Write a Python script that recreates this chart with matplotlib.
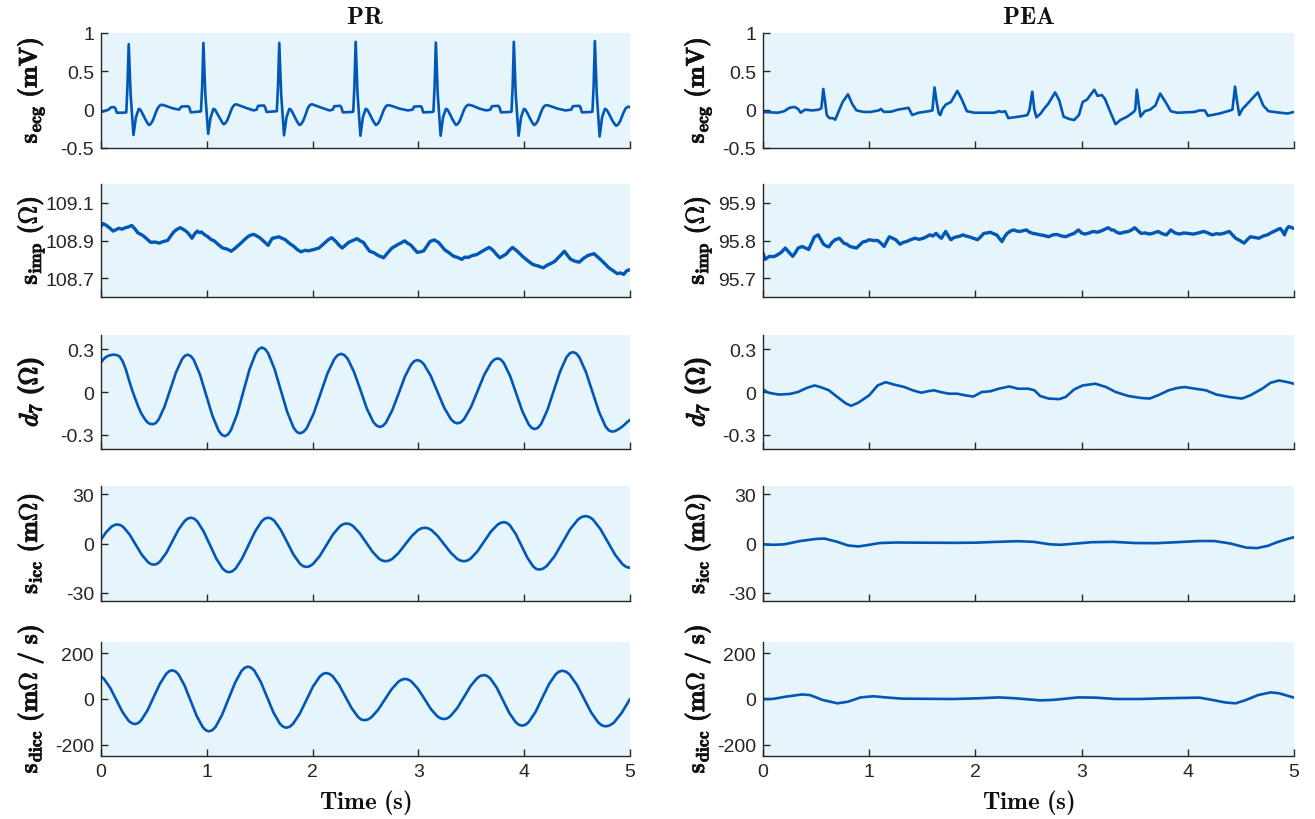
import matplotlib
matplotlib.use("Agg")
import matplotlib.pyplot as plt
from matplotlib import patheffects as pe

plt.rcParams['font.family'] = ['Liberation Sans', 'DejaVu Sans']
plt.rcParams['mathtext.fontset'] = 'custom'
plt.rcParams['mathtext.rm'] = 'cmr10'
plt.rcParams['mathtext.it'] = 'cmmi10'
plt.rcParams['mathtext.bf'] = 'cmb10'
plt.rcParams['mathtext.fallback'] = 'cm'

# ---------------- PR column data ----------------
t_ecg_pr = [0.00, 0.03, 0.07, 0.095, 0.12, 0.135, 0.15, 0.20, 0.239, 0.25, 0.262, 0.28, 0.307, 0.33, 0.357, 0.372, 0.392, 0.417, 0.437, 0.452, 0.467, 0.487, 0.512, 0.532, 0.552, 0.572, 0.612, 0.672, 0.737,
            0.76, 0.82, 0.835, 0.848, 0.93, 0.945,
            0.956, 0.968, 0.986, 1.013, 1.036, 1.063, 1.078, 1.098, 1.123, 1.143, 1.158, 1.173, 1.193, 1.218, 1.238, 1.258, 1.278, 1.318, 1.378, 1.443,
            1.47, 1.485, 1.54, 1.552, 1.565, 1.65, 1.662,
            1.673, 1.685, 1.703, 1.73, 1.753, 1.78, 1.795, 1.815, 1.84, 1.86, 1.875, 1.89, 1.91, 1.935, 1.955, 1.975, 1.995, 2.035, 2.095, 2.16,
            2.19, 2.205, 2.26, 2.272, 2.285, 2.37, 2.384,
            2.395, 2.407, 2.425, 2.452, 2.475, 2.502, 2.517, 2.537, 2.562, 2.582, 2.597, 2.612, 2.632, 2.657, 2.677, 2.697, 2.717, 2.757, 2.817, 2.90,
            2.945, 2.96, 3.02, 3.032, 3.045, 3.13, 3.142,
            3.153, 3.165, 3.183, 3.21, 3.233, 3.26, 3.275, 3.295, 3.32, 3.34, 3.355, 3.37, 3.39, 3.415, 3.435, 3.455, 3.475, 3.515, 3.575, 3.64,
            3.68, 3.695, 3.755, 3.767, 3.78, 3.867, 3.88,
            3.891, 3.902, 3.92, 3.947, 3.97, 3.997, 4.012, 4.032, 4.057, 4.077, 4.092, 4.107, 4.127, 4.152, 4.172, 4.192, 4.212, 4.252, 4.312, 4.39,
            4.445, 4.46, 4.52, 4.532, 4.545, 4.632, 4.645,
            4.656, 4.668, 4.686, 4.713, 4.736, 4.763, 4.778, 4.80, 4.825, 4.85, 4.87, 4.89, 4.91, 4.935, 4.96, 4.985, 5.0]
ecg_pr = [-0.03, -0.02, 0.0, 0.03, 0.035, 0.02, -0.04, -0.04, -0.035, 0.30, 0.855, 0.20, -0.33, -0.10, 0.01, 0.0, -0.05, -0.12, -0.17, -0.20, -0.19, -0.15, -0.06, 0.01, 0.05, 0.065, 0.05, 0.02, 0.0,
          0.04, 0.045, 0.03, -0.035, -0.025, -0.02,
          0.30, 0.87, 0.20, -0.315, -0.10, 0.01, 0.0, -0.05, -0.115, -0.16, -0.19, -0.18, -0.14, -0.05, 0.02, 0.06, 0.07, 0.05, 0.02, -0.01,
          0.0, 0.05, 0.055, 0.03, -0.03, -0.02, -0.02,
          0.30, 0.87, 0.20, -0.335, -0.10, 0.01, 0.0, -0.05, -0.12, -0.17, -0.20, -0.19, -0.15, -0.06, 0.02, 0.06, 0.07, 0.05, 0.02, -0.01,
          0.0, 0.045, 0.05, 0.03, -0.035, -0.03, -0.025,
          0.30, 0.885, 0.20, -0.34, -0.10, 0.01, 0.0, -0.05, -0.12, -0.17, -0.20, -0.19, -0.15, -0.06, 0.01, 0.05, 0.06, 0.045, 0.015, -0.01,
          0.0, 0.04, 0.045, 0.03, -0.035, -0.03, -0.025,
          0.30, 0.875, 0.20, -0.34, -0.10, 0.01, 0.0, -0.05, -0.12, -0.17, -0.20, -0.19, -0.15, -0.06, 0.01, 0.05, 0.065, 0.05, 0.015, -0.01,
          0.0, 0.045, 0.05, 0.03, -0.035, -0.03, -0.025,
          0.30, 0.885, 0.20, -0.34, -0.10, 0.01, 0.0, -0.05, -0.12, -0.17, -0.20, -0.19, -0.15, -0.06, 0.01, 0.05, 0.06, 0.045, 0.015, -0.01,
          0.0, 0.045, 0.05, 0.03, -0.035, -0.03, -0.025,
          0.30, 0.895, 0.20, -0.35, -0.10, 0.01, 0.0, -0.05, -0.12, -0.18, -0.21, -0.19, -0.14, -0.05, 0.02, 0.04, 0.03]

t_imp_pr = [0.0, 0.02, 0.05, 0.085, 0.115, 0.145, 0.17, 0.20, 0.23, 0.26, 0.29, 0.32, 0.35, 0.38, 0.41, 0.44, 0.47, 0.51, 0.55, 0.59, 0.63, 0.66, 0.69, 0.72, 0.75,
            0.78, 0.81, 0.84, 0.86, 0.885, 0.91, 0.93, 0.95, 0.98, 1.01, 1.04, 1.07, 1.11, 1.15, 1.19, 1.23, 1.26, 1.29, 1.33, 1.37, 1.40, 1.44, 1.47, 1.50,
            1.54, 1.58, 1.60, 1.62, 1.65, 1.68, 1.71, 1.74, 1.78, 1.82, 1.855, 1.89, 1.93, 1.96, 2.01, 2.06, 2.09, 2.12, 2.15, 2.18, 2.20, 2.22, 2.25, 2.28,
            2.31, 2.34, 2.38, 2.42, 2.45, 2.48, 2.51, 2.54, 2.58, 2.62, 2.645, 2.67, 2.71, 2.75, 2.78, 2.81, 2.84, 2.87, 2.90, 2.93, 2.96, 2.99, 3.02, 3.05,
            3.08, 3.11, 3.15, 3.19, 3.22, 3.25, 3.29, 3.33, 3.37, 3.41, 3.44, 3.47, 3.51, 3.55, 3.58, 3.61, 3.64, 3.67, 3.69, 3.71, 3.74, 3.77, 3.80, 3.83,
            3.86, 3.89, 3.92, 3.95, 3.98, 4.00, 4.04, 4.08, 4.13, 4.18, 4.22, 4.26, 4.29, 4.32, 4.35, 4.38, 4.41, 4.44, 4.48, 4.52, 4.56, 4.60, 4.63, 4.66,
            4.69, 4.72, 4.76, 4.80, 4.84, 4.88, 4.91, 4.94, 4.97, 5.0]
imp_pr = [108.975, 108.99, 108.98, 108.965, 108.95, 108.958, 108.965, 108.96, 108.968, 108.972, 108.98, 108.962, 108.94, 108.932, 108.92, 108.905, 108.89,
          108.892, 108.886, 108.895, 108.90, 108.925, 108.947, 108.96, 108.968, 108.958, 108.947, 108.928, 108.912, 108.935, 108.95, 108.942, 108.945,
          108.93, 108.92, 108.905, 108.898, 108.878, 108.86, 108.855, 108.843, 108.855, 108.87, 108.89, 108.912, 108.925, 108.933, 108.925, 108.915,
          108.895, 108.874, 108.895, 108.912, 108.915, 108.92, 108.912, 108.905, 108.885, 108.87, 108.852, 108.84, 108.848, 108.845, 108.852, 108.86,
          108.875, 108.89, 108.905, 108.915, 108.905, 108.895, 108.875, 108.86, 108.875, 108.89, 108.90, 108.91, 108.898, 108.89, 108.865, 108.843,
          108.835, 108.82, 108.815, 108.808, 108.835, 108.86, 108.87, 108.88, 108.888, 108.898, 108.885, 108.875, 108.855, 108.837, 108.84, 108.845,
          108.87, 108.895, 108.903, 108.89, 108.87, 108.85, 108.835, 108.817, 108.81, 108.80, 108.812, 108.81, 108.82, 108.825, 108.835, 108.845,
          108.855, 108.863, 108.855, 108.845, 108.825, 108.808, 108.818, 108.828, 108.848, 108.863, 108.85, 108.835, 108.818, 108.808, 108.79,
          108.773, 108.765, 108.755, 108.77, 108.78, 108.79, 108.808, 108.825, 108.843, 108.82, 108.80, 108.79, 108.785, 108.805, 108.82, 108.825,
          108.83, 108.815, 108.80, 108.778, 108.755, 108.74, 108.724, 108.728, 108.72, 108.74, 108.745]

t_d7_pr = [0, 0.03, 0.056, 0.085, 0.115, 0.145, 0.175, 0.205, 0.234, 0.26, 0.29, 0.32, 0.353, 0.38, 0.41, 0.435, 0.46,
           0.49, 0.5175, 0.545, 0.60, 0.655, 0.71, 0.765, 0.7925,
           0.82, 0.849, 0.878, 0.937, 0.995, 1.053, 1.112, 1.141,
           1.17, 1.199, 1.228, 1.287, 1.345, 1.403, 1.462, 1.491,
           1.52, 1.55, 1.58, 1.64, 1.70, 1.76, 1.82, 1.85,
           1.88, 1.9125, 1.945, 2.01, 2.075, 2.14, 2.205, 2.2375,
           2.27, 2.30, 2.331, 2.392, 2.453, 2.513, 2.574, 2.605,
           2.635, 2.665, 2.694, 2.753, 2.813, 2.872, 2.931, 2.96,
           2.99, 3.022, 3.053, 3.117, 3.18, 3.243, 3.307, 3.338,
           3.37, 3.402, 3.433, 3.497, 3.56, 3.623, 3.687, 3.718,
           3.75, 3.779, 3.808, 3.867, 3.925, 3.983, 4.042, 4.071,
           4.10, 4.13, 4.16, 4.22, 4.28, 4.34, 4.40, 4.43,
           4.46, 4.491, 4.522, 4.583, 4.645, 4.707, 4.768, 4.799,
           4.83, 4.86, 4.89, 4.92, 4.95, 4.975, 5.0]
d7_pr = [0.208, 0.235, 0.25, 0.258, 0.262, 0.26, 0.25, 0.215, 0.16, 0.095, 0.023, -0.04, -0.104, -0.15, -0.185, -0.21, -0.223,
         -0.226, -0.218, -0.193, -0.104, 0.018, 0.14, 0.229, 0.254,
         0.262, 0.252, 0.224, 0.119, -0.024, -0.167, -0.272, -0.30,
         -0.31, -0.299, -0.268, -0.155, 0.001, 0.157, 0.27, 0.301,
         0.312, 0.302, 0.272, 0.162, 0.011, -0.14, -0.25, -0.28,
         -0.29, -0.281, -0.253, -0.151, -0.011, 0.129, 0.231, 0.259,
         0.268, 0.259, 0.234, 0.14, 0.012, -0.117, -0.211, -0.236,
         -0.245, -0.237, -0.214, -0.128, -0.011, 0.107, 0.193, 0.216,
         0.224, 0.216, 0.194, 0.113, 0.002, -0.109, -0.19, -0.212,
         -0.22, -0.212, -0.189, -0.106, 0.008, 0.122, 0.205, 0.228,
         0.236, 0.228, 0.203, 0.112, -0.012, -0.136, -0.227, -0.252,
         -0.26, -0.251, -0.224, -0.125, 0.01, 0.145, 0.244, 0.271,
         0.28, 0.271, 0.243, 0.141, 0.001, -0.139, -0.241, -0.269,
         -0.278, -0.274, -0.262, -0.247, -0.228, -0.21, -0.196]

t_icc_pr = [0, 0.05, 0.10, 0.13,
            0.155, 0.184, 0.2125, 0.27, 0.3275, 0.385, 0.4425, 0.471,
            0.50, 0.529, 0.558, 0.617, 0.675, 0.733, 0.792, 0.821,
            0.85, 0.88, 0.91, 0.97, 1.03, 1.09, 1.15, 1.18,
            1.21, 1.241, 1.272, 1.333, 1.395, 1.457, 1.518, 1.549,
            1.58, 1.61, 1.64, 1.70, 1.76, 1.82, 1.88, 1.91,
            1.94, 1.972, 2.003, 2.067, 2.13, 2.193, 2.257, 2.288,
            2.32, 2.351, 2.382, 2.443, 2.505, 2.567, 2.628, 2.659,
            2.69, 2.721, 2.752, 2.813, 2.875, 2.937, 2.998, 3.029,
            3.06, 3.091, 3.122, 3.183, 3.245, 3.307, 3.368, 3.399,
            3.43, 3.462, 3.493, 3.557, 3.62, 3.683, 3.747, 3.778,
            3.81, 3.8375, 3.865, 3.92, 3.975, 4.03, 4.085, 4.1125,
            4.14, 4.177, 4.213, 4.287, 4.36, 4.433, 4.507, 4.543,
            4.58, 4.615, 4.65, 4.72, 4.79, 4.86, 4.93, 4.965, 5.0]
icc_pr = [2.4, 7.0, 10.3, 11.3,
          11.6, 11.18, 9.96, 5.48, -0.65, -6.78, -11.26, -12.48,
          -12.9, -12.41, -10.98, -5.75, 1.4, 8.55, 13.78, 15.21,
          15.7, 15.14, 13.48, 7.4, -0.9, -9.2, -15.28, -16.94,
          -17.5, -16.94, -15.28, -9.2, -0.9, 7.4, 13.48, 15.14,
          15.7, 15.19, 13.69, 8.2, 0.7, -6.8, -12.29, -13.79,
          -14.3, -13.85, -12.52, -7.68, -1.05, 5.58, 10.42, 11.75,
          12.2, 11.81, 10.66, 6.45, 0.7, -5.05, -9.26, -10.41,
          -10.8, -10.45, -9.43, -5.7, -0.6, 4.5, 8.23, 9.25,
          9.6, 9.25, 8.23, 4.5, -0.6, -5.7, -9.43, -10.45,
          -10.8, -10.4, -9.21, -4.85, 1.1, 7.05, 11.41, 12.6,
          13.0, 12.51, 11.06, 5.78, -1.45, -8.68, -13.96, -15.41,
          -15.9, -15.35, -13.72, -7.75, 0.4, 8.55, 14.52, 16.15,
          16.7, 16.16, 14.59, 8.83, 0.95, -6.93, -12.69, -14.26, -14.8]

t_dicc_pr = [0, 0.028, 0.087, 0.145, 0.203, 0.262, 0.291,
             0.32, 0.35, 0.379, 0.438, 0.4975, 0.557, 0.616, 0.645,
             0.675, 0.704, 0.7325, 0.79, 0.8475, 0.905, 0.9625, 0.991,
             1.02, 1.051, 1.082, 1.143, 1.205, 1.267, 1.328, 1.359,
             1.39, 1.42, 1.45, 1.51, 1.57, 1.63, 1.69, 1.72,
             1.75, 1.782, 1.813, 1.877, 1.94, 2.003, 2.067, 2.098,
             2.13, 2.16, 2.19, 2.25, 2.31, 2.37, 2.43, 2.46,
             2.49, 2.522, 2.554, 2.618, 2.683, 2.747, 2.811, 2.843,
             2.875, 2.905, 2.936, 2.997, 3.058, 3.118, 3.179, 3.21,
             3.24, 3.272, 3.303, 3.367, 3.43, 3.493, 3.557, 3.588,
             3.62, 3.65, 3.68, 3.74, 3.80, 3.86, 3.92, 3.95,
             3.98, 4.012, 4.043, 4.107, 4.17, 4.233, 4.297, 4.328,
             4.36, 4.394, 4.428, 4.497, 4.565, 4.633, 4.702, 4.736,
             4.77, 4.808, 4.847, 4.923, 5.0]
dicc_pr = [100, 88, 49, -4, -57, -96, -106,
           -110, -106, -94, -51, 8, 67, 110, 122,
           126, 121, 108, 59, -8, -75, -124, -137,
           -142, -137, -123, -71, 0, 71, 123, 137,
           142, 137, 124, 75, 8, -59, -108, -121,
           -126, -122, -110, -66, -6, 54, 98, 110,
           114, 110, 100, 62, 10, -41, -79, -90,
           -93, -90, -81, -48, -2, 43, 76, 85,
           88, 85, 76, 44, 0, -44, -76, -85,
           -88, -85, -75, -40, 8, 57, 92, 102,
           105, 101, 90, 50, -6, -62, -102, -113,
           -117, -113, -101, -57, 4, 64, 108, 120,
           124, 120, 108, 63, 2, -59, -104, -116,
           -120, -116, -104, -60, 0]

# ---------------- PEA column data ----------------
t_ecg_pea = [0.00, 0.14, 0.20, 0.25, 0.30, 0.33, 0.355, 0.395, 0.465, 0.525, 0.55, 0.568, 0.585, 0.60, 0.625, 0.655, 0.68, 0.71, 0.75, 0.80, 0.84,
             0.88, 0.95, 1.01, 1.09, 1.11, 1.14, 1.21, 1.27, 1.355, 1.37, 1.405, 1.465, 1.56, 1.595, 1.615, 1.635, 1.655, 1.67, 1.69, 1.72, 1.77,
             1.83, 1.87, 1.92, 1.99, 2.18, 2.22, 2.25, 2.28, 2.31, 2.44, 2.49, 2.51, 2.535, 2.555, 2.575, 2.615, 2.645, 2.685, 2.75, 2.79, 2.83,
             2.88, 2.93, 2.975, 3.01, 3.05, 3.12, 3.15, 3.19, 3.22, 3.27, 3.32, 3.365, 3.43, 3.49, 3.505, 3.52, 3.54, 3.555, 3.595, 3.645, 3.695,
             3.74, 3.79, 3.84, 3.90, 4.06, 4.11, 4.16, 4.19, 4.30, 4.40, 4.42, 4.445, 4.465, 4.485, 4.515, 4.56, 4.66, 4.71, 4.76, 4.87, 4.94, 5.0]
ecg_pea = [-0.03, -0.04, -0.02, 0.025, 0.035, 0.01, -0.04, 0.0, -0.01, 0.0, 0.02, 0.27, 0.10, -0.07, -0.11, -0.11, -0.13, -0.03, 0.10, 0.20, 0.075,
           -0.01, -0.03, -0.03, -0.01, 0.01, -0.03, -0.025, 0.0, 0.02, 0.025, -0.07, -0.04, -0.02, -0.01, 0.29, 0.10, -0.05, -0.07, 0.01, 0.065, 0.10,
           0.245, 0.14, -0.02, -0.04, -0.04, -0.02, -0.03, -0.02, -0.11, -0.085, -0.07, 0.0, 0.235, 0.0, -0.10, -0.05, 0.01, 0.075, 0.225, 0.12, -0.09,
           -0.12, -0.135, -0.07, 0.10, 0.13, 0.26, 0.18, 0.19, 0.14, -0.03, -0.19, -0.135, -0.09, -0.03, 0.0, 0.26, 0.05, -0.09, -0.02, 0.0, 0.055,
           0.21, 0.10, -0.02, -0.04, -0.03, -0.01, -0.01, -0.08, -0.05, -0.01, 0.0, 0.30, 0.10, -0.07, 0.01, 0.075, 0.225, 0.055, -0.02, -0.04, -0.05, -0.03]

t_imp_pea = [0.0, 0.02, 0.06, 0.10, 0.13, 0.17, 0.21, 0.25, 0.28, 0.31, 0.33, 0.37, 0.40, 0.43, 0.46, 0.485, 0.52, 0.55, 0.57, 0.60, 0.62, 0.65, 0.68,
             0.72, 0.76, 0.79, 0.82, 0.85, 0.88, 0.91, 0.94, 0.97, 1.00, 1.04, 1.08, 1.11, 1.14, 1.17, 1.19, 1.22, 1.25, 1.29, 1.32, 1.35, 1.39, 1.43,
             1.47, 1.51, 1.54, 1.57, 1.60, 1.63, 1.66, 1.68, 1.70, 1.72, 1.745, 1.77, 1.80, 1.83, 1.86, 1.88, 1.91, 1.94, 1.98, 2.02, 2.05, 2.08, 2.11,
             2.14, 2.17, 2.20, 2.225, 2.25, 2.28, 2.30, 2.33, 2.36, 2.39, 2.42, 2.45, 2.48, 2.51, 2.54, 2.58, 2.61, 2.65, 2.69, 2.73, 2.77, 2.81, 2.85,
             2.89, 2.93, 2.97, 3.00, 3.03, 3.07, 3.11, 3.15, 3.19, 3.22, 3.25, 3.28, 3.30, 3.33, 3.36, 3.40, 3.44, 3.47, 3.50, 3.53, 3.56, 3.60, 3.64,
             3.68, 3.72, 3.76, 3.80, 3.84, 3.88, 3.92, 3.96, 4.00, 4.05, 4.10, 4.15, 4.19, 4.23, 4.27, 4.31, 4.35, 4.39, 4.42, 4.45, 4.49, 4.53, 4.56,
             4.59, 4.63, 4.67, 4.71, 4.75, 4.78, 4.81, 4.84, 4.87, 4.89, 4.91, 4.93, 4.95, 4.98, 5.0]
imp_pea = [95.767, 95.75, 95.758, 95.757, 95.761, 95.768, 95.78, 95.767, 95.758, 95.77, 95.78, 95.784, 95.78, 95.776, 95.795, 95.81, 95.815, 95.80,
           95.79, 95.785, 95.783, 95.795, 95.802, 95.806, 95.793, 95.79, 95.784, 95.782, 95.78, 95.788, 95.796, 95.798, 95.802, 95.80, 95.80, 95.793,
           95.784, 95.80, 95.81, 95.806, 95.802, 95.79, 95.795, 95.797, 95.802, 95.806, 95.803, 95.806, 95.81, 95.815, 95.812, 95.819, 95.81, 95.806,
           95.815, 95.824, 95.812, 95.802, 95.808, 95.81, 95.812, 95.815, 95.812, 95.81, 95.806, 95.802, 95.81, 95.819, 95.82, 95.822, 95.818, 95.815,
           95.806, 95.797, 95.812, 95.819, 95.825, 95.828, 95.825, 95.824, 95.826, 95.828, 95.822, 95.819, 95.817, 95.815, 95.813, 95.81, 95.815,
           95.816, 95.812, 95.81, 95.815, 95.819, 95.828, 95.82, 95.817, 95.82, 95.824, 95.822, 95.826, 95.83, 95.834, 95.828, 95.828, 95.822, 95.819,
           95.822, 95.824, 95.828, 95.834, 95.826, 95.819, 95.82, 95.817, 95.82, 95.824, 95.818, 95.815, 95.828, 95.82, 95.817, 95.82, 95.819, 95.817,
           95.82, 95.824, 95.82, 95.815, 95.818, 95.817, 95.82, 95.824, 95.815, 95.806, 95.80, 95.793, 95.802, 95.81, 95.808, 95.806, 95.812, 95.815,
           95.82, 95.824, 95.828, 95.832, 95.825, 95.815, 95.83, 95.837, 95.834, 95.832]

t_d7_pea = [0.0, 0.05, 0.15, 0.25, 0.33, 0.41, 0.485, 0.54, 0.62, 0.70, 0.78, 0.83, 0.90, 1.0, 1.08, 1.155, 1.23, 1.33, 1.41, 1.49, 1.55, 1.61, 1.67,
            1.75, 1.83, 1.90, 1.98, 2.06, 2.14, 2.22, 2.32, 2.40, 2.50, 2.555, 2.61, 2.69, 2.79, 2.85, 2.93, 3.01, 3.13, 3.23, 3.32, 3.44, 3.56, 3.64,
            3.72, 3.82, 3.90, 3.97, 4.07, 4.17, 4.27, 4.39, 4.51, 4.59, 4.70, 4.78, 4.86, 4.94, 5.0]
d7_pea = [0.018, -0.005, -0.018, -0.014, 0.0, 0.028, 0.046, 0.035, 0.012, -0.035, -0.08, -0.097, -0.074, -0.023, 0.046, 0.069, 0.053, 0.035, 0.012,
          -0.005, 0.005, 0.012, 0.0, -0.012, -0.012, -0.023, -0.032, 0.0, 0.005, 0.023, 0.039, 0.023, 0.023, 0.012, -0.028, -0.046, -0.05, -0.035,
          0.018, 0.046, 0.058, 0.035, 0.0, -0.028, -0.042, -0.046, -0.023, 0.012, 0.028, 0.035, 0.023, 0.012, -0.018, -0.035, -0.046, -0.023, 0.023,
          0.065, 0.081, 0.069, 0.058]

t_icc_pea = [0.0, 0.1, 0.2, 0.35, 0.5, 0.58, 0.7, 0.8, 0.9, 1.0, 1.1, 1.25, 1.5, 1.8, 2.0, 2.2, 2.4, 2.55, 2.7, 2.8, 2.95, 3.1, 3.3, 3.5, 3.7, 3.9,
             4.1, 4.25, 4.4, 4.55, 4.65, 4.75, 4.85, 4.95, 5.0]
icc_pea = [-0.5, -0.8, -0.5, 1.5, 2.8, 3.0, 1.0, -1.2, -1.8, -0.8, 0.3, 0.6, 0.5, 0.4, 0.5, 1.0, 1.4, 1.0, -0.5, -0.8, 0.0, 0.8, 1.0, 0.3, 0.2, 0.8,
           1.5, 1.5, 0.0, -2.5, -2.8, -1.5, 1.0, 3.0, 3.8]

t_dicc_pea = [0.0, 0.09, 0.21, 0.37, 0.445, 0.56, 0.70, 0.80, 0.92, 1.04, 1.155, 1.31, 1.79, 2.02, 2.22, 2.38, 2.61, 2.73, 2.97, 3.13, 3.32, 3.56,
              3.76, 4.11, 4.23, 4.35, 4.45, 4.55, 4.66, 4.78, 4.86, 5.0]
dicc_pea = [0, 0, 10, 20, 17, -4, -19, -12, 7, 12, 7, 1.5, 0, 3, 7, 3, -6, -4, 7, 6, 0, 0, 3, 6, -4, -15, -19, -4, 17, 29, 25, 6]

# ---------------- styling ----------------
LINE = '#0057b5'
BG = '#e6f5fb'
DARK = '#262626'
TXT = '#111111'

fig = plt.figure(figsize=(13.15, 8.2), dpi=100)
W, H = 1315.0, 820.0
cols = [(101, 529), (763, 531)]
rows = [(34, 149), (185, 298), (336, 450), (487, 602), (643, 757)]

ylims = [(-0.5, 1.0), None, (-0.4, 0.4), (-35, 35), (-250, 250)]
yticks = [[-0.5, 0, 0.5, 1], None, [-0.3, 0, 0.3], [-30, 0, 30], [-200, 0, 200]]
yticklabels = [['-0.5', '0', '0.5', '1'], None, ['-0.3', '0', '0.3'], ['-30', '0', '30'], ['-200', '0', '200']]
ylabels = [r'$\mathbf{s}_{\mathbf{ecg}}\ \mathbf{(mV)}$',
           r'$\mathbf{s}_{\mathbf{imp}}\ \mathbf{(\Omega)}$',
           r'$\mathit{d}_{\mathit{7}}\ \mathbf{(\Omega)}$',
           r'$\mathbf{s}_{\mathbf{icc}}\ \mathbf{(m\Omega)}$',
           r'$\mathbf{s}_{\mathbf{dicc}}\ \mathbf{(m\Omega\ /\ s)}$']

series = [
    [(t_ecg_pr, ecg_pr), (t_imp_pr, imp_pr), (t_d7_pr, d7_pr), (t_icc_pr, icc_pr), (t_dicc_pr, dicc_pr)],
    [(t_ecg_pea, ecg_pea), (t_imp_pea, imp_pea), (t_d7_pea, d7_pea), (t_icc_pea, icc_pea), (t_dicc_pea, dicc_pea)],
]
imp_lims = [(108.6, 109.2), (95.65, 95.95)]
imp_ticks = [[108.7, 108.9, 109.1], [95.7, 95.8, 95.9]]
imp_labels = [['108.7', '108.9', '109.1'], ['95.7', '95.8', '95.9']]
titles = [r'$\mathbf{PR}$', r'$\mathbf{PEA}$']
label_x = [-0.104, -0.094]

for c, (x0, w) in enumerate(cols):
    for r, (ytop, ybot) in enumerate(rows):
        ax = fig.add_axes([x0 / W, 1 - ybot / H, w / W, (ybot - ytop) / H])
        ax.set_facecolor(BG)
        t, v = series[c][r]
        lw = 2.4 if r == 1 else 1.9
        ax.plot(t, v, color=LINE, lw=lw, solid_joinstyle='round', solid_capstyle='round')
        ax.set_xlim(0, 5)
        if r == 1:
            ax.set_ylim(*imp_lims[c])
            ax.set_yticks(imp_ticks[c])
            ax.set_yticklabels(imp_labels[c])
        else:
            ax.set_ylim(*ylims[r])
            ax.set_yticks(yticks[r])
            ax.set_yticklabels(yticklabels[r])
        ax.set_xticks([0, 1, 2, 3, 4, 5])
        if r == 4:
            ax.set_xticklabels(['0', '1', '2', '3', '4', '5'])
            ax.set_xlabel(r'$\mathbf{Time\ (s)}$', fontsize=18, color=TXT)
            ax.xaxis.set_label_coords(0.5, -0.27)
        else:
            ax.set_xticklabels([])
        for s in ['top', 'right']:
            ax.spines[s].set_visible(False)
        for s in ['left', 'bottom']:
            ax.spines[s].set_color(DARK)
            ax.spines[s].set_linewidth(1.0)
        ax.tick_params(direction='in', length=5, width=1.0, colors=DARK,
                       labelsize=14, pad=5)
        ax.set_ylabel(ylabels[r], fontsize=18.5, color=TXT)
        ax.yaxis.set_label_coords(label_x[c], 0.5)
        sw = 1.0 if r == 2 else 0.5
        ax.yaxis.label.set_path_effects([pe.withStroke(linewidth=sw, foreground=TXT)])
        if r == 0:
            ax.set_title(titles[c], fontsize=18, color=TXT, pad=7)

fig.savefig('out.png', dpi=100)
